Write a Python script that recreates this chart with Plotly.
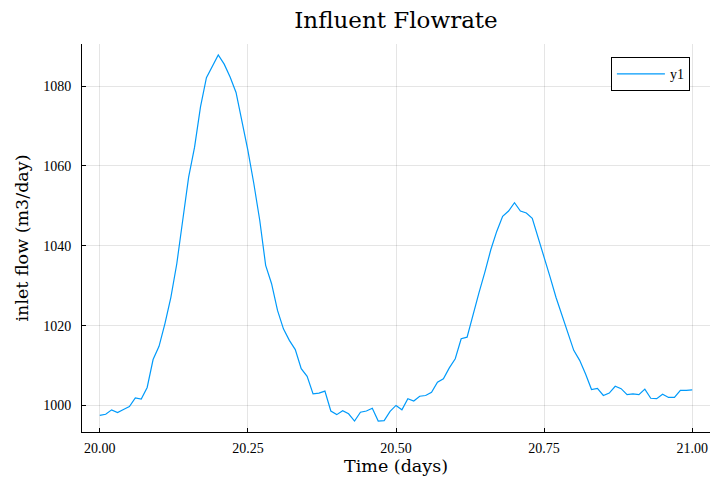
import plotly.graph_objects as go

time_days = [round(20 + 0.01 * i, 2) for i in range(101)]
inlet_flow = [
    997.5, 997.8, 998.9, 998.2, 999.0, 999.7, 1001.9, 1001.6, 1004.5, 1011.5,
    1014.8, 1020.5, 1027.1, 1035.5, 1046.4, 1057.2, 1064.7, 1074.8, 1082.1, 1085.0,
    1087.8, 1085.5, 1082.3, 1078.4, 1071.4, 1063.9, 1055.6, 1046.4, 1035.1, 1030.5,
    1023.8, 1019.2, 1016.3, 1014.0, 1009.2, 1007.3, 1002.9, 1003.1, 1003.6, 998.6,
    997.7, 998.7, 997.9, 996.1, 998.3, 998.6, 999.3, 996.1, 996.2, 998.5,
    1000.0, 998.9, 1001.7, 1001.1, 1002.3, 1002.5, 1003.3, 1005.8, 1006.7, 1009.4,
    1011.7, 1016.7, 1017.1, 1023.0, 1028.2, 1033.4, 1039.0, 1043.6, 1047.4, 1048.7,
    1050.8, 1048.7, 1048.2, 1046.9, 1042.2, 1037.2, 1032.2, 1027.1, 1022.6, 1018.0,
    1013.8, 1011.3, 1007.9, 1004.0, 1004.3, 1002.5, 1003.1, 1004.8, 1004.2, 1002.7,
    1002.9, 1002.7, 1004.1, 1001.8, 1001.7, 1002.8, 1002.0, 1002.0, 1003.8, 1003.8,
    1003.9,
]
x_ticks = [20.0, 20.25, 20.5, 20.75, 21.0]
x_tick_labels = ["20.00", "20.25", "20.50", "20.75", "21.00"]
y_ticks = [1000, 1020, 1040, 1060, 1080]

text_font = "DejaVu Serif, Liberation Serif, serif"
tick_font = "Liberation Serif, DejaVu Serif, serif"

fig = go.Figure()
fig.add_trace(go.Scatter(
    x=time_days, y=inlet_flow, mode="lines", name="y1",
    line=dict(color="#009AFA", width=1.2),
))

ymin, ymax = min(inlet_flow), max(inlet_flow)
pad = 0.03 * (ymax - ymin)

fig.update_layout(
    width=711, height=483,
    margin=dict(l=82, r=1, t=44, b=51),
    paper_bgcolor="white", plot_bgcolor="white",
    font=dict(family=text_font, color="black"),
    title=dict(text="Influent Flowrate", x=(82 + 710) / 2 / 711, xanchor="center",
               y=1 - 20 / 483, yanchor="middle",
               font=dict(size=23, family=text_font)),
    showlegend=True,
    legend=dict(x=0.968, y=0.966, xanchor="right", yanchor="top",
                bordercolor="black", borderwidth=1, bgcolor="white",
                itemwidth=48,
                font=dict(size=14, family=tick_font)),
    xaxis=dict(
        range=[19.97, 21.03], tickvals=x_ticks, ticktext=x_tick_labels,
        showgrid=True, gridcolor="rgba(0,0,0,0.1)", gridwidth=1,
        showline=True, linecolor="black", linewidth=1, mirror=False,
        ticks="inside", ticklen=4, tickcolor="black",
        zeroline=False, tickfont=dict(size=14, family=tick_font),
        ticklabelstandoff=3,
        title=dict(text="Time (days)", font=dict(size=17.5, family=text_font), standoff=4),
    ),
    yaxis=dict(
        range=[ymin - pad, ymax + pad], tickvals=y_ticks,
        showgrid=True, gridcolor="rgba(0,0,0,0.1)", gridwidth=1,
        showline=True, linecolor="black", linewidth=1, mirror=False,
        ticks="inside", ticklen=4, tickcolor="black",
        zeroline=False, tickfont=dict(size=14, family=tick_font),
        ticklabelstandoff=7,
        title=dict(text="inlet flow (m3/day)", font=dict(size=17.5, family=text_font), standoff=10),
    ),
)

fig.write_html("out.html")
